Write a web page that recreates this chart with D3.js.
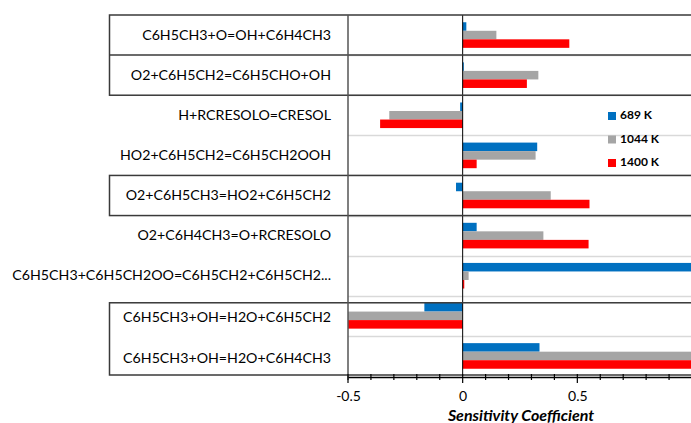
<!DOCTYPE html>
<html><head><meta charset="utf-8">
<script src="https://cdn.jsdelivr.net/npm/d3@7"></script>
<style>
html,body{margin:0;padding:0;background:#fff;}
svg{display:block;}
</style></head>
<body>
<svg id="chart" width="691" height="423"></svg>
<script>
const categories = [
  "C6H5CH3+O=OH+C6H4CH3",
  "O2+C6H5CH2=C6H5CHO+OH",
  "H+RCRESOLO=CRESOL",
  "HO2+C6H5CH2=C6H5CH2OOH",
  "O2+C6H5CH3=HO2+C6H5CH2",
  "O2+C6H4CH3=O+RCRESOLO",
  "C6H5CH3+C6H5CH2OO=C6H5CH2+C6H5CH2...",
  "C6H5CH3+OH=H2O+C6H5CH2",
  "C6H5CH3+OH=H2O+C6H4CH3"
];
const seriesNames = ["689 K", "1044 K", "1400 K"];
const s689  = [0.016, 0.005, -0.011, 0.325, -0.029, 0.061, 1.05, -0.167, 0.335];
const s1044 = [0.147, 0.33, -0.32, 0.318, 0.384, 0.352, 0.026, -0.55, 1.10];
const s1400 = [0.465, 0.28, -0.36, 0.061, 0.553, 0.549, 0.007, -0.55, 1.20];
const seriesValues = [s689, s1044, s1400];
const colors = ["#0070C0", "#A5A5A5", "#FF0000"];
const xTicks = [-0.5, 0, 0.5];
const xDomain = [-0.5, 1.0];
const boxedGroups = [[0, 1], [4, 4], [7, 8]];

const svg = d3.select("#chart");
const font = "Lato, 'Open Sans', sans-serif";
const plotL = 348, plotR = 692, plotT = 15, plotB = 376;

const x = d3.scaleLinear().domain(xDomain).range([plotL, plotR]);
const y0 = d3.scaleBand().domain(categories).range([plotT, plotB]).paddingInner(0).paddingOuter(0);
const y1 = d3.scaleBand().domain(seriesNames).range([0, y0.bandwidth()]).paddingInner(0).paddingOuter(0.85);

// light gridlines at category boundaries
const bounds = categories.map((c) => y0(c)).concat([plotB]);
svg.append("g").selectAll("line").data(bounds.slice(1, -1)).join("line")
  .attr("x1", plotL).attr("x2", 691)
  .attr("y1", d => Math.round(d) + 0.5).attr("y2", d => Math.round(d) + 0.5)
  .attr("stroke", "#d9d9d9").attr("stroke-width", 1.5);

// bars
svg.append("clipPath").attr("id", "pc").append("rect")
  .attr("x", plotL).attr("y", plotT).attr("width", plotR - plotL).attr("height", plotB - plotT);
const barsG = svg.append("g").attr("clip-path", "url(#pc)");
seriesNames.forEach((s, si) => {
  barsG.append("g").selectAll("rect").data(categories).join("rect")
    .attr("x", (c, i) => x(Math.min(0, seriesValues[si][i])))
    .attr("width", (c, i) => Math.abs(x(seriesValues[si][i]) - x(0)))
    .attr("y", c => y0(c) + y1(s))
    .attr("height", y1.bandwidth())
    .attr("fill", colors[si]);
});

// zero line
svg.append("line").attr("x1", x(0)).attr("x2", x(0)).attr("y1", plotT).attr("y2", plotB)
  .attr("stroke", "#000").attr("stroke-width", 1);

// boxes around label groups
const boxG = svg.append("g").attr("fill", "none").attr("stroke", "#3a3a3a").attr("stroke-width", 1.5);
boxedGroups.forEach(([a, b], gi) => {
  let top = y0(categories[a]);
  let bot = y0(categories[b]) + y0.bandwidth();
  if (gi === 2) { top += 7; bot -= 1; }
  boxG.append("rect").attr("x", 109.5).attr("y", top).attr("width", 700).attr("height", bot - top);
  if (b > a && gi !== 2) {
    for (let k = a + 1; k <= b; k++) {
      const yy = y0(categories[k]);
      boxG.append("line").attr("x1", 109.5).attr("x2", 691).attr("y1", yy).attr("y2", yy);
    }
  }
});

// left axis line
svg.append("line").attr("x1", plotL).attr("x2", plotL).attr("y1", plotT).attr("y2", plotB + 4)
  .attr("stroke", "#555").attr("stroke-width", 1.5);

// category labels
svg.append("g").selectAll("text").data(categories).join("text")
  .attr("x", 331).attr("y", (c, i) => y0(c) + y0.bandwidth() / 2 + (i >= 7 ? 3 : 1))
  .attr("text-anchor", "end").attr("dominant-baseline", "middle")
  .attr("font-family", font).attr("font-size", 14.2).attr("fill", "#000")
  .text(d => d);

// x axis
const axisY = plotB + 1;
const xAxis = d3.axisBottom(x).tickValues(xTicks).tickSize(0).tickPadding(14)
  .tickFormat(d => d === 0 ? "0" : String(d));
const ax = svg.append("g").attr("transform", `translate(0,${axisY})`).call(xAxis);
ax.select(".domain").attr("stroke", "#000").attr("stroke-width", 1.5);
ax.selectAll("text").attr("font-family", font).attr("font-size", 14).attr("fill", "#000");
const minor = d3.range(-5, 11).map(v => v / 10);
svg.append("g").selectAll("line").data(minor).join("line")
  .attr("x1", d => x(d)).attr("x2", d => x(d))
  .attr("y1", axisY - 3).attr("y2", d => Math.abs(d * 2 - Math.round(d * 2)) < 1e-9 ? axisY + 6 : axisY + 3)
  .attr("stroke", "#000").attr("stroke-width", 1.2);

svg.append("text").attr("x", (plotL + plotR) / 2 + 1).attr("y", 420.5)
  .attr("text-anchor", "middle").attr("font-family", font).attr("font-size", 16)
  .attr("font-weight", "bold").attr("font-style", "italic").text("Sensitivity Coefficient");

// legend
const lg = svg.append("g");
seriesNames.forEach((s, i) => {
  const cy = 116 + i * 23.5;
  lg.append("rect").attr("x", 608).attr("y", cy - 4).attr("width", 8).attr("height", 8).attr("fill", colors[i]);
  lg.append("text").attr("x", 620).attr("y", cy).attr("dominant-baseline", "middle")
    .attr("font-family", font).attr("font-size", 12).attr("font-weight", "bold").text(s);
});
</script>
</body></html>
